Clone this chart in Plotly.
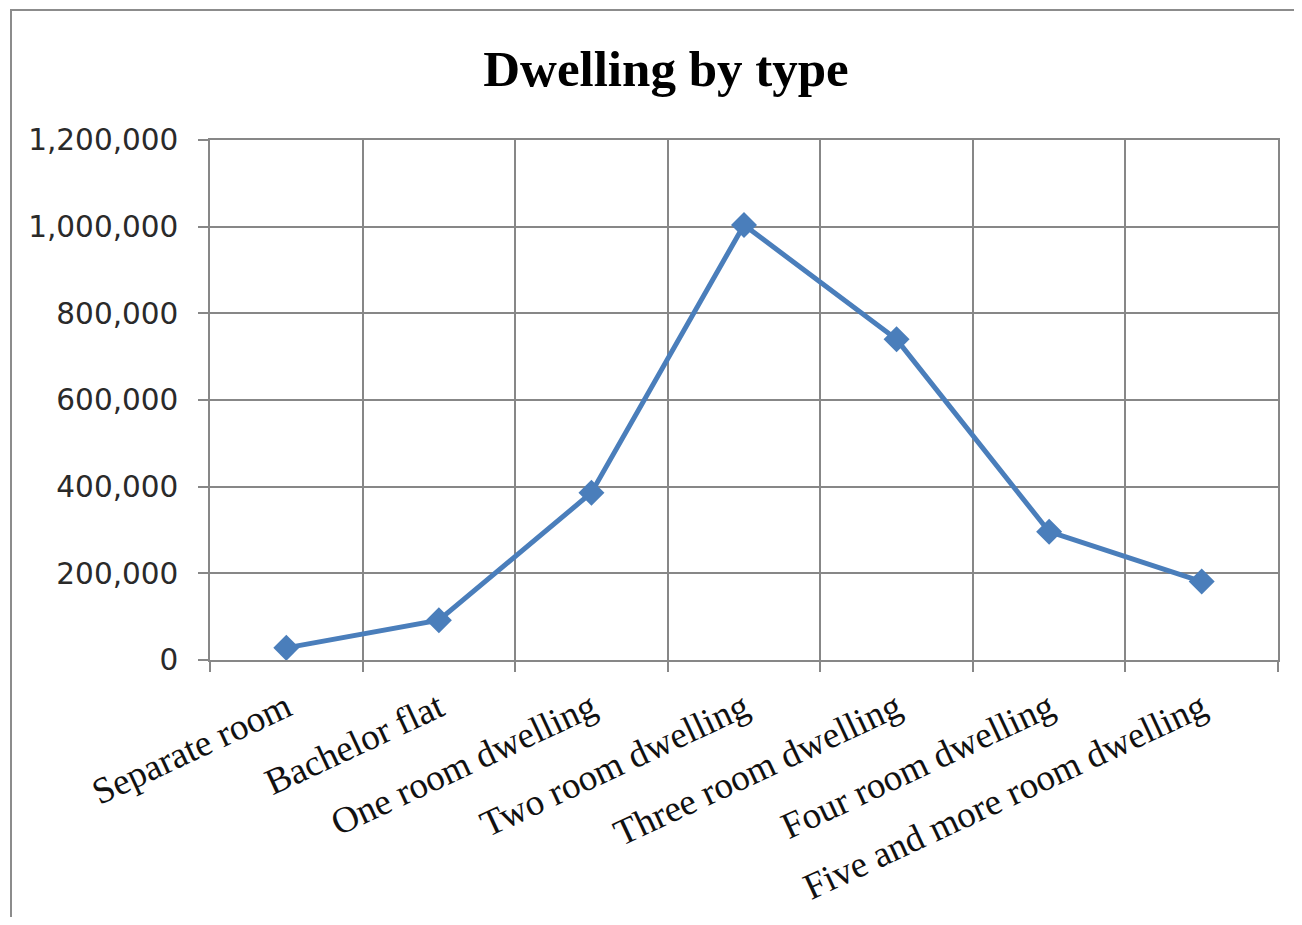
import plotly.graph_objects as go

categories = ["Separate room", "Bachelor flat", "One room dwelling", "Two room dwelling",
              "Three room dwelling", "Four room dwelling", "Five and more room dwelling"]
dwellings = [28000, 92000, 386000, 1004000, 740000, 296000, 181000]
y_ticks = [0, 200000, 400000, 600000, 800000, 1000000, 1200000]
y_tick_labels = ["0", "200,000", "400,000", "600,000", "800,000", "1,000,000", "1,200,000"]

OFF = 8  # browser body margin
W, H = 1286, 909
L, R, T, B = 202, 16, 132, 257
PW, PH = W - L - R, H - T - B

fig = go.Figure()
fig.add_trace(go.Scatter(
    x=categories, y=dwellings, mode="lines+markers",
    line=dict(color="#4A7EBB", width=5),
    marker=dict(symbol="diamond", size=20, color="#4A7EBB"),
    showlegend=False,
))

grid = "#878787"
fig.update_layout(
    width=W, height=H,
    margin=dict(l=L, r=R, t=T, b=B, autoexpand=False),
    paper_bgcolor="white", plot_bgcolor="white",
    title=dict(text="<b>Dwelling by type</b>", x=(666 - OFF) / W, y=1 - (68 - OFF) / H,
               xanchor="center", yanchor="middle",
               font=dict(family="Liberation Serif", size=51, color="black")),
    xaxis=dict(
        type="category", range=[-0.5, 6.5], tickson="boundaries",
        showgrid=True, gridcolor=grid, gridwidth=1.5,
        showline=True, linecolor=grid, linewidth=1.5, mirror=True,
        ticks="outside", ticklen=10, tickcolor=grid, tickwidth=1.5,
        tickangle=-25, ticklabelstandoff=10,
        tickfont=dict(family="Liberation Serif", size=37, color="#111"),
    ),
    yaxis=dict(
        range=[0, 1200000], tickvals=y_ticks, ticktext=y_tick_labels,
        showgrid=True, gridcolor=grid, gridwidth=1.5, zeroline=False,
        showline=True, linecolor=grid, linewidth=1.5, mirror=True,
        ticks="outside", ticklen=10, tickcolor=grid, tickwidth=1.5,
        ticklabelstandoff=14,
        tickfont=dict(family="DejaVu Sans", size=29.5, color="#2a2a2a"),
    ),
    shapes=[dict(type="rect", xref="paper", yref="paper",
                 x0=(11 - OFF - L) / PW, x1=(W + 30 - L) / PW,
                 y0=-(B + 30) / PH,
                 y1=(H - (10 - OFF) - B) / PH,
                 line=dict(color="#8c8c8c", width=2), layer="below")],
)

fig.write_html("out.html")
